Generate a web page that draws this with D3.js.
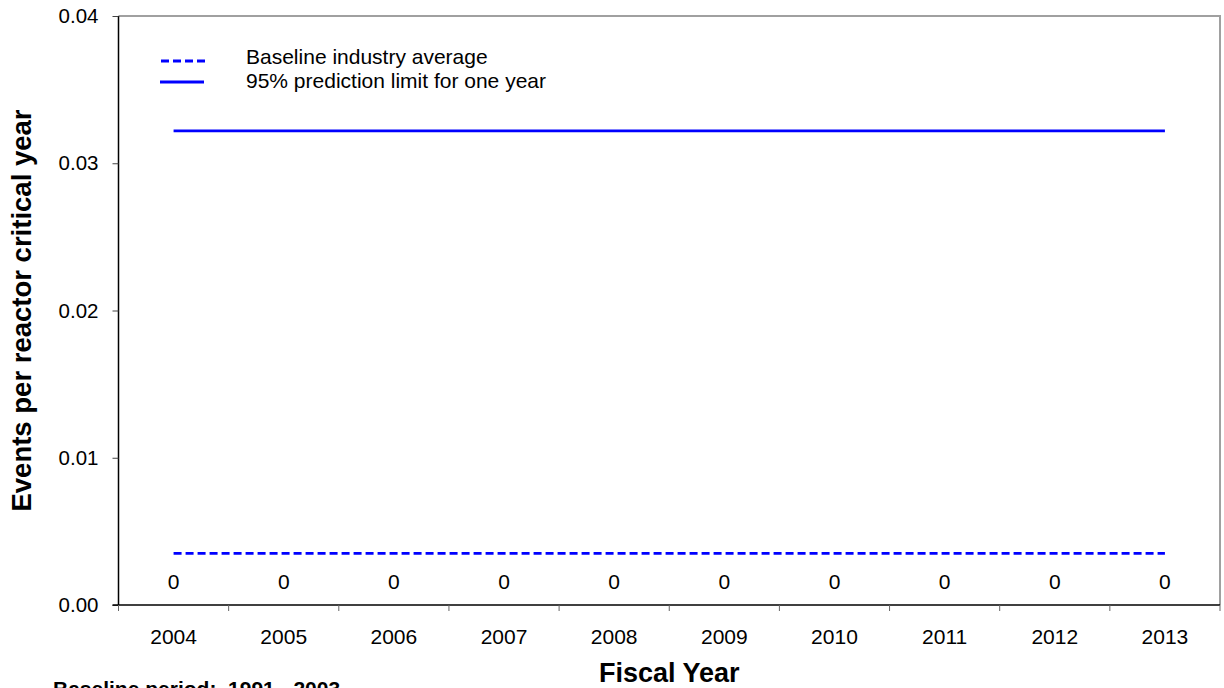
<!DOCTYPE html>
<html><head><meta charset="utf-8">
<script src="https://cdn.jsdelivr.net/npm/d3@7"></script>
<style>body{margin:0;background:#fff}svg{display:block;font-family:Arial,"Liberation Sans",sans-serif}</style>
</head><body><svg id="c" width="1224" height="688"></svg>
<script>
const years = ["2004","2005","2006","2007","2008","2009","2010","2011","2012","2013"];
const eventRates = [0,0,0,0,0,0,0,0,0,0];
const baselineAvg = [0.0035,0.0035,0.0035,0.0035,0.0035,0.0035,0.0035,0.0035,0.0035,0.0035];
const predLimit = [0.0322,0.0322,0.0322,0.0322,0.0322,0.0322,0.0322,0.0322,0.0322,0.0322];
const yTicks = [0,0.01,0.02,0.03,0.04];

const svg = d3.select("#c");
const L=118.5, R=1220, T=16, B=605;
const x = d3.scaleBand().domain(years).range([L,R]);
const y = d3.scaleLinear().domain([0,0.04]).range([B,T]);

// top & right border
svg.append("path").attr("d",`M${L},${T}H${R}V${B}`).attr("fill","none").attr("stroke","#a0a0a0").attr("stroke-width",2);

// y axis
const ya = svg.append("g").attr("transform",`translate(${L},0)`)
  .call(d3.axisLeft(y).tickValues(yTicks).tickFormat(d3.format(".2f")).tickSize(6).tickPadding(14));
ya.select(".domain").attr("stroke","#000").attr("stroke-width",1.5).attr("d",`M0,${T}V${B}`);
ya.selectAll(".tick line").attr("stroke","#444");
ya.selectAll("text").attr("font-size",20.5).attr("fill","#000").attr("font-family","Arial,'Liberation Sans',sans-serif");

// x axis
const xa = svg.append("g").attr("transform",`translate(0,${B})`)
  .call(d3.axisBottom(x).tickSize(0).tickPadding(24));
xa.select(".domain").remove();
xa.selectAll("text").attr("font-size",21).attr("fill","#000").attr("font-family","Arial,'Liberation Sans',sans-serif");
svg.append("line").attr("x1",L-6).attr("x2",R).attr("y1",B).attr("y2",B).attr("stroke","#000").attr("stroke-width",1.5);
const bounds = years.map(d=>x(d)).concat([R]);
svg.selectAll(".xt").data(bounds).enter().append("line")
  .attr("x1",d=>d).attr("x2",d=>d).attr("y1",B).attr("y2",B+6).attr("stroke","#666");

const cx = d=>x(d)+x.bandwidth()/2;
const line = d3.line().x(d=>cx(d.year)).y(d=>y(d.v));

svg.append("path").datum(years.map((yr,i)=>({year:yr,v:predLimit[i]})))
  .attr("d",line).attr("fill","none").attr("stroke","#0000ff").attr("stroke-width",2.8);
svg.append("path").datum(years.map((yr,i)=>({year:yr,v:baselineAvg[i]})))
  .attr("d",line).attr("fill","none").attr("stroke","#0000ff").attr("stroke-width",2.8).attr("stroke-dasharray","8,4");

// data labels
svg.selectAll(".lbl").data(years.map((yr,i)=>({year:yr,v:eventRates[i]}))).enter().append("text")
  .attr("x",d=>cx(d.year)).attr("y",d=>y(d.v)-16).attr("text-anchor","middle")
  .attr("font-size",21).text(d=>d3.format("d")(d.v));

// legend
svg.append("line").attr("x1",161).attr("x2",205).attr("y1",61).attr("y2",61).attr("stroke","#0000ff").attr("stroke-width",2.8).attr("stroke-dasharray","8,4");
svg.append("line").attr("x1",160).attr("x2",204).attr("y1",82).attr("y2",82).attr("stroke","#0000ff").attr("stroke-width",2.8);
svg.append("text").attr("x",246).attr("y",64).attr("font-size",21).text("Baseline industry average");
svg.append("text").attr("x",246).attr("y",88).attr("font-size",21).text("95% prediction limit for one year");

// titles
svg.append("text").attr("x",(L+R)/2).attr("y",682).attr("text-anchor","middle").attr("font-size",27).attr("font-weight","bold").text("Fiscal Year");
svg.append("text").attr("transform",`translate(31,${(T+B)/2}) rotate(-90)`).attr("text-anchor","middle").attr("font-size",27.5).attr("font-weight","bold").text("Events per reactor critical year");
svg.append("text").attr("x",53).attr("y",696).attr("font-size",21).attr("font-weight","bold").attr("xml:space","preserve").style("white-space","pre").text("Baseline period:  1991 - 2003");
</script></body></html>
